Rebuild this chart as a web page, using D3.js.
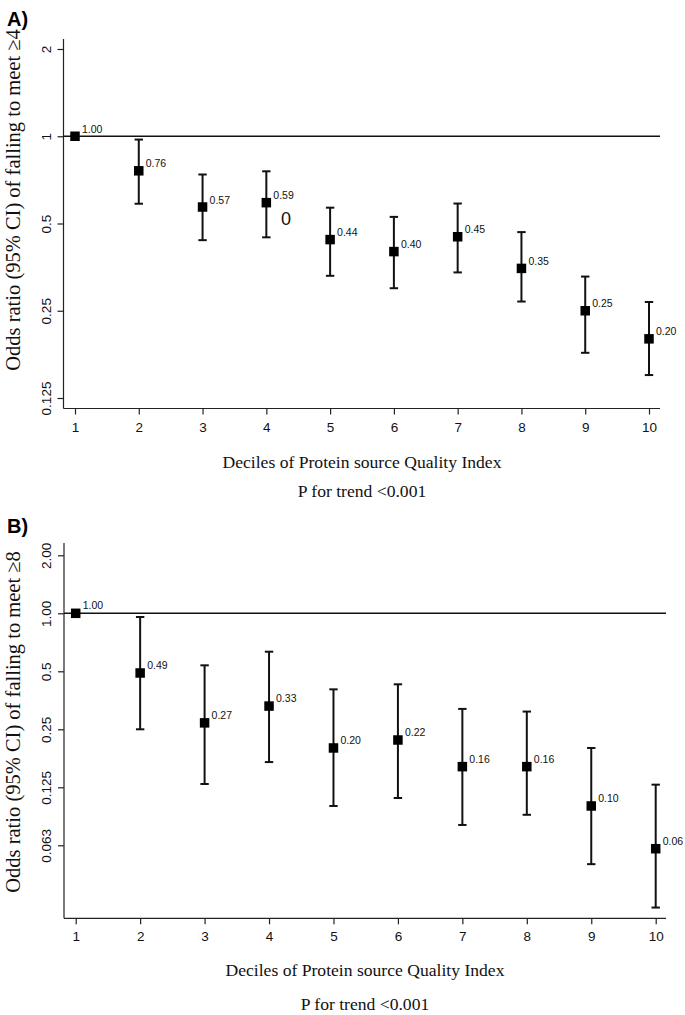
<!DOCTYPE html>
<html>
<head>
<meta charset="utf-8">
<script src="https://cdn.jsdelivr.net/npm/d3@7"></script>
<style>
  html, body { margin: 0; padding: 0; background: #fff; }
  svg { display: block; }
</style>
</head>
<body>
<svg id="chart" width="685" height="1015"></svg>
<script>
// ---- Data ----
const deciles = [1, 2, 3, 4, 5, 6, 7, 8, 9, 10];

// Panel A: OR of failing to meet >=4
const orA = [1.00, 0.76, 0.57, 0.59, 0.44, 0.40, 0.45, 0.35, 0.25, 0.20];
const loA = [null, 0.585, 0.438, 0.448, 0.33, 0.299, 0.339, 0.269, 0.179, 0.150];
const hiA = [null, 0.974, 0.738, 0.757, 0.567, 0.527, 0.586, 0.467, 0.328, 0.268];
const yTicksA = [0.125, 0.25, 0.5, 1, 2];
const yTickLabelsA = ["0.125", "0.25", "0.5", "1", "2"];

// Panel B: OR of failing to meet >=8
const orB = [1.00, 0.49, 0.27, 0.33, 0.20, 0.22, 0.16, 0.16, 0.10, 0.06];
const loB = [null, 0.25, 0.13, 0.169, 0.10, 0.11, 0.0797, 0.090, 0.0499, 0.0297];
const hiB = [null, 0.957, 0.537, 0.632, 0.403, 0.428, 0.319, 0.309, 0.20, 0.129];
const yTicksB = [0.0625, 0.125, 0.25, 0.5, 1, 2];
const yTickLabelsB = ["0.063", "0.125", "0.25", "0.5", "1.00", "2.00"];

const xTitle = "Deciles of Protein source Quality Index";
const pTrend = "P for trend <0.001";

const svg = d3.select("#chart");
const SANS = "'Liberation Sans', Arial, Helvetica, sans-serif";
const SERIF = "'Liberation Serif', 'Times New Roman', serif";

function drawPanel(o) {
  const g = svg.append("g");
  const x = d3.scaleLinear().domain([1, 10]).range(o.xRange);
  const y = d3.scaleLog().base(2).domain([o.yTicks[0], o.yTicks[o.yTicks.length - 1]]).range(o.yRange);

  // panel letter
  g.append("text").attr("x", 7).attr("y", o.letterY)
    .attr("font-family", SANS).attr("font-weight", "bold").attr("font-size", 20)
    .text(o.letter);

  // axis spines
  g.append("line").attr("x1", o.spineX).attr("x2", o.spineX)
    .attr("y1", o.spineTop).attr("y2", o.spineBottom)
    .attr("stroke", "#222").attr("stroke-width", 1.2);
  g.append("line").attr("x1", o.spineX).attr("x2", o.spineRight)
    .attr("y1", o.spineBottom).attr("y2", o.spineBottom)
    .attr("stroke", "#222").attr("stroke-width", 1.2);

  // y axis ticks
  const yAxis = d3.axisLeft(y).tickValues(o.yTicks).tickSize(6).tickSizeOuter(0)
    .tickFormat((d, i) => o.yTickLabels[i]);
  const ya = g.append("g").attr("transform", `translate(${o.spineX},0)`).call(yAxis);
  ya.select(".domain").remove();
  ya.selectAll(".tick line").attr("stroke", "#222").attr("stroke-width", 1.2);
  ya.selectAll(".tick text")
    .attr("font-family", SANS).attr("font-size", 13.5).attr("fill", "#111")
    .attr("text-anchor", "middle")
    .attr("x", null).attr("dy", null)
    .attr("transform", "translate(-13,0) rotate(-90)");

  // x axis ticks
  const xAxis = d3.axisBottom(x).tickValues(deciles).tickSize(6).tickSizeOuter(0)
    .tickFormat(d3.format("d"));
  const xa = g.append("g").attr("transform", `translate(0,${o.spineBottom})`).call(xAxis);
  xa.select(".domain").remove();
  xa.selectAll(".tick line").attr("stroke", "#222").attr("stroke-width", 1.2);
  xa.selectAll(".tick text")
    .attr("font-family", SANS).attr("font-size", 13.5).attr("fill", "#111")
    .attr("y", 23).attr("dy", null);

  // reference line at OR = 1
  g.append("line").attr("x1", o.spineX).attr("x2", o.spineRight)
    .attr("y1", y(1)).attr("y2", y(1))
    .attr("stroke", "#111").attr("stroke-width", 1.6);

  const rows = deciles.map((d, i) => ({ d, or: o.or[i], lo: o.lo[i], hi: o.hi[i] }));
  const ci = rows.filter(r => r.lo != null);

  // error bars
  g.selectAll(".ci").data(ci).join("line")
    .attr("x1", r => x(r.d)).attr("x2", r => x(r.d))
    .attr("y1", r => y(r.hi)).attr("y2", r => y(r.lo))
    .attr("stroke", "#111").attr("stroke-width", 2);
  const capW = 4.2;
  ["hi", "lo"].forEach(k => {
    g.selectAll(".cap" + k).data(ci).join("line")
      .attr("x1", r => x(r.d) - capW).attr("x2", r => x(r.d) + capW)
      .attr("y1", r => y(r[k])).attr("y2", r => y(r[k]))
      .attr("stroke", "#111").attr("stroke-width", 2);
  });

  // markers
  const s = 9.5;
  g.selectAll(".pt").data(rows).join("rect")
    .attr("x", r => x(r.d) - s / 2).attr("y", r => y(r.or) - s / 2)
    .attr("width", s).attr("height", s).attr("fill", "#000");

  // value labels
  g.selectAll(".lbl").data(rows).join("text")
    .attr("x", r => x(r.d) + 7).attr("y", r => y(r.or) - o.lblDy)
    .attr("font-family", SANS).attr("font-size", 10.5).attr("fill", "#111")
    .text(r => d3.format(".2f")(r.or));

  // y title
  g.append("text")
    .attr("transform", `translate(${o.yTitleX},${o.yTitleY}) rotate(-90)`)
    .attr("text-anchor", "middle")
    .attr("font-family", SERIF).attr("font-size", 20.5).attr("fill", "#111")
    .text(o.yTitle);

  // x title and p for trend
  g.append("text").attr("x", o.xTitleX).attr("y", o.xTitleY)
    .attr("text-anchor", "middle")
    .attr("font-family", SERIF).attr("font-size", 17.6).attr("fill", "#111")
    .text(xTitle);
  g.append("text").attr("x", o.xTitleX).attr("y", o.pY)
    .attr("text-anchor", "middle")
    .attr("font-family", SERIF).attr("font-size", 17.6).attr("fill", "#111")
    .text(pTrend);
  return { g, x, y };
}

const A = drawPanel({
  letter: "A)", letterY: 26,
  or: orA, lo: loA, hi: hiA,
  yTicks: yTicksA, yTickLabels: yTickLabelsA,
  xRange: [75, 649], yRange: [398, 49],
  spineX: 63.5, spineTop: 39, spineBottom: 408.5, spineRight: 660,
  lblDy: 3.5,
  yTitle: "Odds ratio (95% CI) of falling to meet \u22654",
  yTitleX: 19.5, yTitleY: 200,
  xTitleX: 362, xTitleY: 468, pY: 497
});

// stray "0" glyph in panel A
A.g.append("text").attr("x", 281).attr("y", 225)
  .attr("font-family", SANS).attr("font-size", 18).attr("fill", "#111")
  .text("0");

drawPanel({
  letter: "B)", letterY: 533,
  or: orB, lo: loB, hi: hiB,
  yTicks: yTicksB, yTickLabels: yTickLabelsB,
  xRange: [75.7, 655.7], yRange: [845.3, 555.3],
  spineX: 64, spineTop: 543, spineBottom: 918.3, spineRight: 666,
  lblDy: 4,
  yTitle: "Odds ratio (95% CI) of falling to meet \u22658",
  yTitleX: 19.5, yTitleY: 722,
  xTitleX: 365, xTitleY: 976, pY: 1010
});
</script>
</body>
</html>
